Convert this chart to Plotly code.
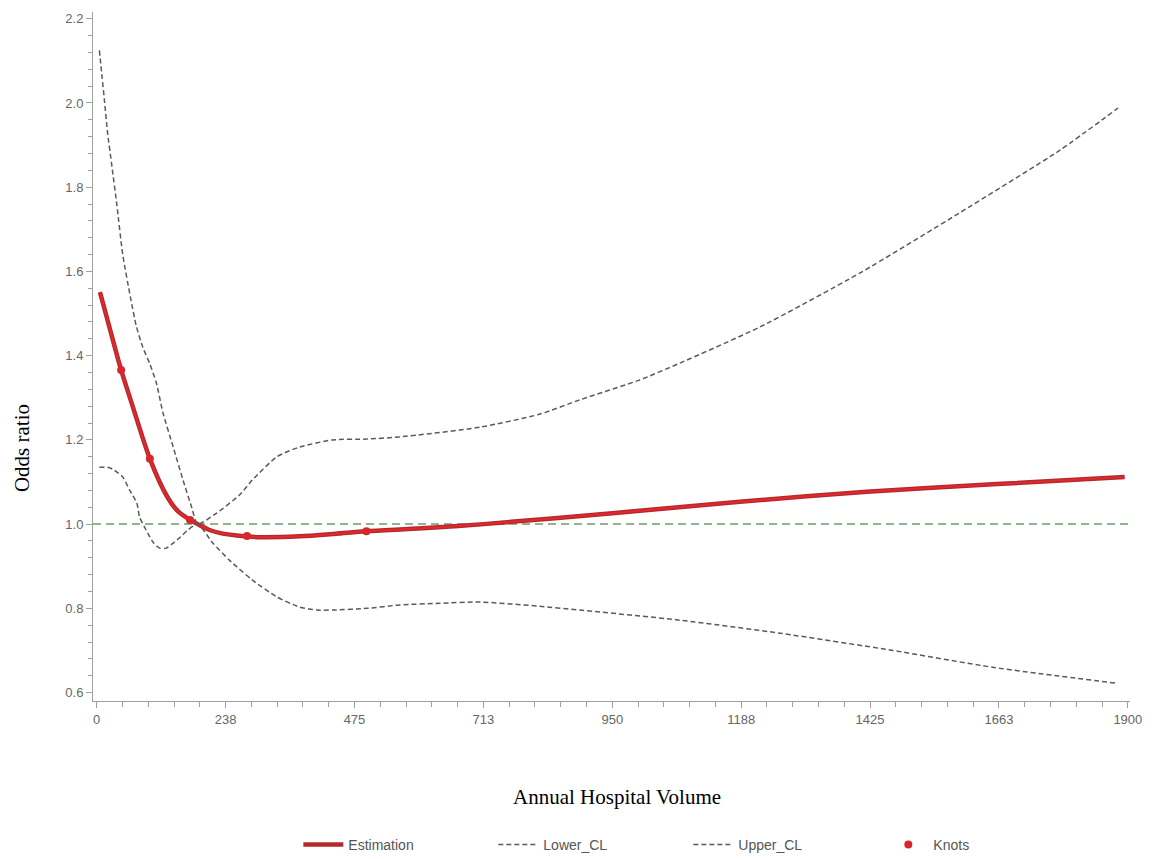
import plotly.graph_objects as go

# ---- data ----
est_vol = [6, 24, 45, 65, 98, 130, 150, 172, 186, 208, 230, 258, 300, 374, 440, 496, 600, 713, 950, 1185, 1419, 1659, 1894]
est_or  = [1.551, 1.465, 1.366, 1.285, 1.155, 1.065, 1.03, 1.01, 1.0, 0.986, 0.978, 0.973, 0.969, 0.971, 0.977, 0.983, 0.99, 1.0, 1.026, 1.053, 1.077, 1.095, 1.112]

lower_vol = [5, 20, 30, 48, 61, 74, 79, 91, 105, 116, 128, 141, 155, 168, 186,
             214, 245, 287, 332, 374, 405, 435, 498, 558, 632, 706, 816, 890, 1074, 1259, 1467, 1651, 1880]
lower_or  = [1.135, 1.135, 1.13, 1.112, 1.08, 1.05, 1.017, 0.986, 0.955, 0.943, 0.943, 0.955, 0.97, 0.986, 1.0,
             0.955, 0.914, 0.867, 0.827, 0.803, 0.796, 0.796, 0.80, 0.808, 0.812, 0.815, 0.805, 0.796, 0.772, 0.741, 0.70, 0.66, 0.622]

upper_vol = [5, 10, 14, 20, 28, 37, 48, 62, 73, 85, 98, 110, 122, 141, 159, 175, 186,
             221, 263, 287, 332, 374, 435, 498, 558, 706, 816, 890, 1000, 1074, 1222, 1406, 1590, 1775, 1882]
upper_or  = [2.125, 2.06, 2.01, 1.93, 1.85, 1.76, 1.64, 1.54, 1.47, 1.42, 1.38, 1.335, 1.265, 1.183, 1.105, 1.04, 1.0,
             1.026, 1.069, 1.105, 1.16, 1.183, 1.2, 1.202, 1.207, 1.23, 1.261, 1.295, 1.342, 1.382, 1.468, 1.596, 1.739, 1.888, 1.988]

knot_vol = [45, 98, 172, 277, 497]
knot_or  = [1.366, 1.155, 1.01, 0.972, 0.983]

x_tickvals = [0, 237.5, 475, 712.5, 950, 1187.5, 1425, 1662.5, 1900]
x_ticktext = ["0", "238", "475", "713", "950", "1188", "1425", "1663", "1900"]
y_tickvals = [0.6, 0.8, 1.0, 1.2, 1.4, 1.6, 1.8, 2.0, 2.2]

ref_value = 1.0

fig = go.Figure()

fig.add_trace(go.Scatter(x=est_vol, y=est_or, mode="lines", name="Estimation", legendrank=1,
                         line=dict(color="#b3282e", width=4.5, shape="spline", smoothing=0.8)))
fig.add_trace(go.Scatter(x=est_vol, y=est_or, mode="lines", showlegend=False, hoverinfo="skip",
                         line=dict(color="#e0292a", width=2, shape="spline", smoothing=0.8)))
fig.add_trace(go.Scatter(x=lower_vol, y=lower_or, mode="lines", name="Lower_CL", legendrank=2,
                         line=dict(color="#5a5a5a", width=1.5, dash="5px,3px", shape="spline", smoothing=0.6)))
fig.add_trace(go.Scatter(x=upper_vol, y=upper_or, mode="lines", name="Upper_CL", legendrank=3,
                         line=dict(color="#5a5a5a", width=1.5, dash="5px,3px", shape="spline", smoothing=0.6)))
fig.add_trace(go.Scatter(x=knot_vol, y=knot_or, mode="markers", name="Knots", legendrank=4,
                         marker=dict(color="#d8262a", size=8)))

fig.add_shape(type="line", xref="paper", x0=0, x1=1, yref="y", y0=ref_value, y1=ref_value,
              line=dict(color="#6f9a6f", width=1.5, dash="8px,5px"), layer="below")

tickfont = dict(family="Liberation Sans, Arial", size=13, color="#666666")

fig.update_xaxes(range=[-6.8, 1904], tickmode="array", tickvals=x_tickvals, ticktext=x_ticktext,
                 showline=True, linecolor="#a0a0a0", linewidth=1, ticks="outside", ticklen=6,
                 tickcolor="#a0a0a0", showgrid=False, zeroline=False, tickfont=tickfont, automargin=False,
                 minor=dict(tick0=0, dtick=47.5, ticks="outside", ticklen=5, tickcolor="#a0a0a0", showgrid=False))
fig.update_yaxes(range=[0.58, 2.216], tickmode="array", tickvals=y_tickvals, tickformat=".1f",
                 showline=True, linecolor="#a0a0a0", linewidth=1, ticks="outside", ticklen=6,
                 tickcolor="#a0a0a0", showgrid=False, zeroline=False, tickfont=tickfont, automargin=False,
                 minor=dict(tick0=0.6, dtick=0.04, ticks="outside", ticklen=4, tickcolor="#a0a0a0", showgrid=False))

fig.add_annotation(text="Annual Hospital Volume", xref="paper", yref="paper", x=0.505, y=-0.1393,
                   xanchor="center", yanchor="middle",
                   showarrow=False, font=dict(family="Liberation Serif, Times New Roman", size=21, color="black"))
fig.add_annotation(text="Odds ratio", xref="paper", yref="paper", x=-0.0685, y=0.367, textangle=-90,
                   xanchor="center", yanchor="middle",
                   showarrow=False, font=dict(family="Liberation Serif, Times New Roman", size=21, color="black"))

# page body adds an 8px offset, so margins are compensated
fig.update_layout(
    width=1164, height=859,
    margin=dict(l=85, r=42, t=4, b=166, autoexpand=False),
    plot_bgcolor="white", paper_bgcolor="white",
    showlegend=True,
    legend=dict(orientation="h", x=0.198, xref="paper", xanchor="left",
                y=0.0256, yref="container", yanchor="middle",
                font=dict(family="Liberation Sans, Arial", size=14, color="#555555"),
                entrywidth=140, entrywidthmode="pixels", itemwidth=40,
                traceorder="normal"),
)

fig.write_html("out.html")
